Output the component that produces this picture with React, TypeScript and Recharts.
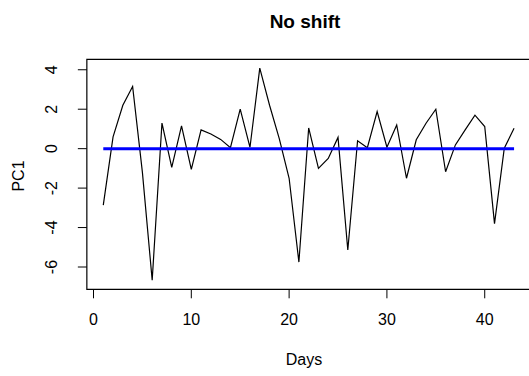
import React from "react";
import { LineChart, Line, XAxis, YAxis, ReferenceArea } from "recharts";

const days = [1, 2, 3, 4, 5, 6, 7, 8, 9, 10, 11, 12, 13, 14, 15, 16, 17, 18, 19, 20, 21, 22, 23, 24, 25, 26, 27, 28, 29, 30, 31, 32, 33, 34, 35, 36, 37, 38, 39, 40, 41, 42, 43];
const pc1 = [-2.86, 0.6, 2.2, 3.15, -1.2, -6.67, 1.3, -0.95, 1.15, -1.05, 0.95, 0.74, 0.47, 0.05, 2.0, 0.07, 4.08, 2.2, 0.5, -1.5, -5.75, 1.05, -1.0, -0.5, 0.57, -5.14, 0.4, 0.05, 1.88, 0.07, 1.2, -1.5, 0.45, 1.29, 2.0, -1.17, 0.19, 0.95, 1.7, 1.12, -3.8, 0.02, 1.03];
const noShift = [0, 0, 0, 0, 0, 0, 0, 0, 0, 0, 0, 0, 0, 0, 0, 0, 0, 0, 0, 0, 0, 0, 0, 0, 0, 0, 0, 0, 0, 0, 0, 0, 0, 0, 0, 0, 0, 0, 0, 0, 0, 0, 0];
const xTicks = [0, 10, 20, 30, 40];
const yTicks = [-6, -4, -2, 0, 2, 4];
const xDomain = [-0.68, 44.68];
const yDomain = [-7.13, 4.53];

const data = days.map((d, i) => ({ day: d, pc1: pc1[i], shift: noShift[i] }));

const FONT = "'Liberation Sans', Arial, sans-serif";

const XTick = (props: any) => {
  const { x, payload } = props;
  return (
    <text x={x} y={325} textAnchor="middle" fontSize={16} fontFamily={FONT} fill="#000">
      {payload.value}
    </text>
  );
};

const YTick = (props: any) => {
  const { y, payload } = props;
  return (
    <text
      x={57}
      y={y}
      textAnchor="middle"
      fontSize={16}
      fontFamily={FONT}
      fill="#000"
      transform={`rotate(-90, 57, ${y})`}
    >
      {payload.value}
    </text>
  );
};

export default function App() {
  return (
    <div
      style={{
        position: "fixed",
        left: 0,
        top: 0,
        width: 529,
        height: 376,
        overflow: "hidden",
        background: "#fff",
      }}
    >
      <LineChart
        width={540}
        height={376}
        data={data}
        margin={{ top: 59.3, right: 9.5, bottom: 56.7, left: 0 }}
      >
        <XAxis
          dataKey="day"
          type="number"
          domain={xDomain}
          ticks={xTicks}
          allowDataOverflow
          axisLine={false}
          tickLine={{ stroke: "#000", strokeWidth: 1 }}
          tickSize={9}
          height={30}
          tick={<XTick />}
        />
        <YAxis
          type="number"
          domain={yDomain}
          ticks={yTicks}
          allowDataOverflow
          axisLine={false}
          tickLine={{ stroke: "#000", strokeWidth: 1 }}
          tickSize={9}
          width={86.85}
          tick={<YTick />}
        />
        <ReferenceArea
          x1={xDomain[0]}
          x2={xDomain[1]}
          y1={yDomain[0]}
          y2={yDomain[1]}
          fill="none"
          fillOpacity={0}
          stroke="#000"
          strokeWidth={1.2}
          ifOverflow="visible"
        />
        <Line
          dataKey="pc1"
          stroke="#000"
          strokeWidth={1.2}
          dot={false}
          isAnimationActive={false}
          type="linear"
        />
        <Line
          dataKey="shift"
          stroke="#0000FF"
          strokeWidth={3}
          dot={false}
          isAnimationActive={false}
          type="linear"
        />
      </LineChart>
      <svg
        width={529}
        height={376}
        style={{ position: "absolute", left: 0, top: 0, pointerEvents: "none" }}
      >
        <text x={305} y={28} textAnchor="middle" fontSize={19} fontWeight="bold" fontFamily={FONT} fill="#000">
          No shift
        </text>
        <text x={304} y={365} textAnchor="middle" fontSize={16} fontFamily={FONT} fill="#000">
          Days
        </text>
        <text
          x={24}
          y={176}
          textAnchor="middle"
          fontSize={16}
          fontFamily={FONT}
          fill="#000"
          transform="rotate(-90, 24, 176)"
        >
          PC1
        </text>
      </svg>
    </div>
  );
}
